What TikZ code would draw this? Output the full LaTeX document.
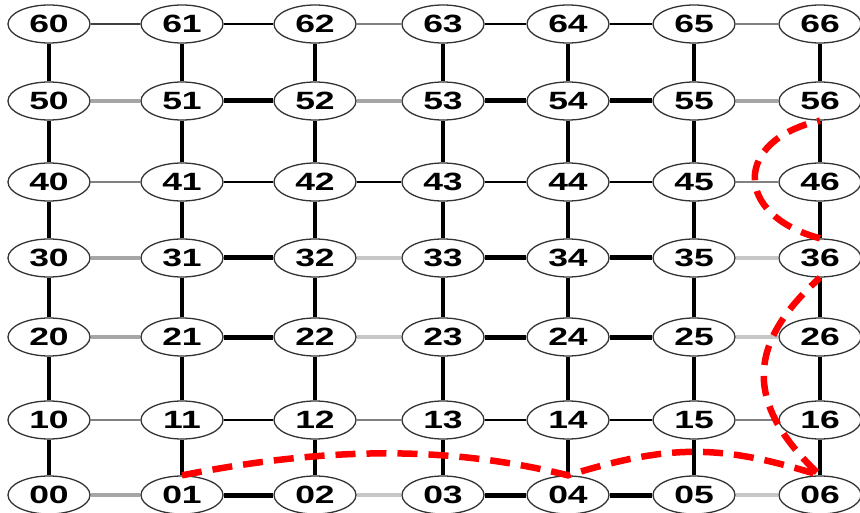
\documentclass[tikz,border=0pt]{standalone}
\usepackage{fontspec}
\usepackage{graphicx}
\setmainfont{Liberation Sans}
\usetikzlibrary{shapes.geometric,backgrounds}
\tikzset{
  cell/.style={ellipse, draw=black!80, line width=1.3pt, fill=white,
    minimum width=82pt, minimum height=38pt, inner sep=0pt,
    font=\fontsize{25}{25}\selectfont\bfseries},
  vbold/.style={line width=4.5pt, black},
  hbold/.style={line width=5pt, black},
  hthin/.style={line width=2pt, black},
  hmix/.style={line width=2pt, black!75},
  hgrey/.style={line width=2pt, black!50},
  hwide/.style={line width=4pt, black!35},
  hpale/.style={line width=4pt, black!22},
  route/.style={red, line width=6.5pt, dash pattern=on 20pt off 11pt},
}
\begin{document}
\begin{tikzpicture}[x=1pt,y=-1pt]
\useasboundingbox (0,0) rectangle (860,513);
% grid cells, labelled row/column
\foreach \c/\x in {0/49,1/182,2/315,3/443,4/568,5/694,6/820}
  \foreach \r/\y in {6/24,5/101,4/182,3/258,2/337,1/420,0/495}
    \node[cell] (n\r\c) at (\x,\y) {\scalebox{1.42}[1]{\r\c}};
\begin{scope}[on background layer]
  % vertical links
  \foreach \c in {0,...,6}
    \foreach \lo/\hi in {0/1,1/2,2/3,3/4,4/5,5/6}
      \draw[vbold] (n\lo\c) -- (n\hi\c);
  % horizontal links
  \foreach \a/\b/\st in {
      60/61/hmix,61/62/hthin,62/63/hgrey,63/64/hthin,64/65/hthin,65/66/hgrey,
      50/51/hwide,51/52/hbold,52/53/hwide,53/54/hbold,54/55/hbold,55/56/hwide,
      40/41/hgrey,41/42/hthin,42/43/hthin,43/44/hthin,44/45/hthin,45/46/hgrey,
      30/31/hwide,31/32/hbold,32/33/hpale,33/34/hbold,34/35/hbold,35/36/hpale,
      20/21/hwide,21/22/hbold,22/23/hpale,23/24/hbold,24/25/hbold,25/26/hpale,
      10/11/hgrey,11/12/hthin,12/13/hgrey,13/14/hthin,14/15/hthin,15/16/hgrey,
      00/01/hwide,01/02/hbold,02/03/hpale,03/04/hbold,04/05/hbold,05/06/hpale}
    \draw[\st] (n\a) -- (n\b);
\end{scope}
% routed path
\draw[route] (n01.north) .. controls (330,446) and (450,446) .. (n04.north)
  .. controls (670,444) and (720,444) .. (n06.north)
  .. controls (745,405) and (745,345) .. (n36.south)
  (n36.north) .. controls (733,215) and (733,140) .. (n56.south);
\end{tikzpicture}
\end{document}
